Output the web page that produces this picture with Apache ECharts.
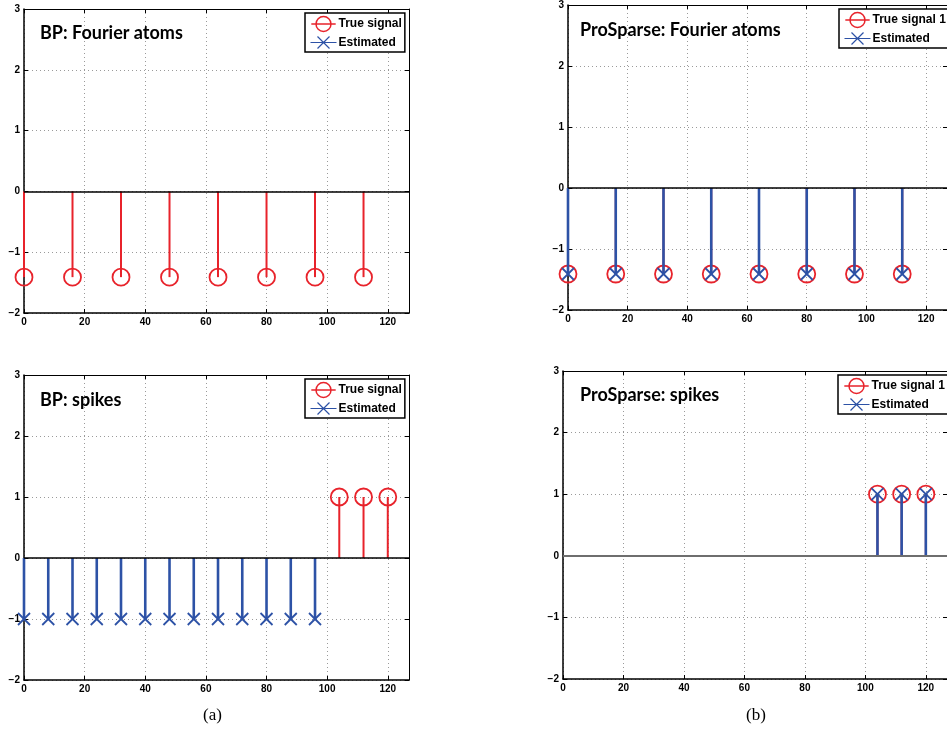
<!DOCTYPE html>
<html>
<head>
<meta charset="utf-8">
<script src="https://cdn.jsdelivr.net/npm/echarts@6/dist/echarts.min.js"></script>
<style>
  html, body { margin: 0; padding: 0; background: #fff; }
  #chart { width: 947px; height: 733px; }
</style>
</head>
<body>
<div id="chart"></div>
<script>
// data
const fourierIdx = [0, 16, 32, 48, 64, 80, 96, 112];
const fourierTrue = [-1.41, -1.41, -1.41, -1.41, -1.41, -1.41, -1.41, -1.41];
const bpFourierEstIdx = [];
const bpFourierEst = [];
const psFourierEst = [-1.41, -1.41, -1.41, -1.41, -1.41, -1.41, -1.41, -1.41];

const spikeIdx = [104, 112, 120];
const spikeTrue = [1, 1, 1];
const bpSpikeEstIdx = [0, 8, 16, 24, 32, 40, 48, 56, 64, 72, 80, 88, 96];
const bpSpikeEst = [-1, -1, -1, -1, -1, -1, -1, -1, -1, -1, -1, -1, -1];
const psSpikeEst = [1, 1, 1];

const RED = '#e8232b';
const BLUE = '#2d52a6';

const panels = [
  { title: 'BP: Fourier atoms', trueName: 'True signal',
    trueX: fourierIdx, trueY: fourierTrue, estX: bpFourierEstIdx, estY: bpFourierEst,
    grid: { left: 24, top: 9, width: 385, height: 304 },
    titlePos: { left: 40, top: 24 }, legendPos: { left: 305, top: 13 }, base: '#000', baseW: 1.5 },
  { title: 'ProSparse: Fourier atoms', trueName: 'True signal 1',
    trueX: fourierIdx, trueY: fourierTrue, estX: fourierIdx, estY: psFourierEst,
    grid: { left: 568, top: 5, width: 386, height: 305 },
    titlePos: { left: 580, top: 21 }, legendPos: { left: 839, top: 9 }, base: '#000', baseW: 1.5 },
  { title: 'BP: spikes', trueName: 'True signal',
    trueX: spikeIdx, trueY: spikeTrue, estX: bpSpikeEstIdx, estY: bpSpikeEst,
    grid: { left: 24, top: 375, width: 385, height: 305 },
    titlePos: { left: 40, top: 391 }, legendPos: { left: 305, top: 379 }, base: '#000', baseW: 1.5 },
  { title: 'ProSparse: spikes', trueName: 'True signal 1',
    trueX: spikeIdx, trueY: spikeTrue, estX: spikeIdx, estY: psSpikeEst,
    grid: { left: 563, top: 371, width: 391, height: 308 },
    titlePos: { left: 580, top: 386 }, legendPos: { left: 838, top: 375 }, base: '#6e6e6e', baseW: 2.2 }
];

const tickFont = { fontFamily: 'Liberation Sans', fontWeight: 'bold', fontSize: 10, color: '#000' };
const gridLine = { show: true, lineStyle: { color: '#9a9a9a', type: [1, 3], width: 1 } };

function fmtY(v) {
  return v < 0 ? '\u2212' + (-v) : String(v);
}

function stem(kind, color, width) {
  return function (params, api) {
    const x = api.value(0), y = api.value(1);
    const p = api.coord([x, y]);
    const b = api.coord([x, 0]);
    const kids = [{
      type: 'line',
      shape: { x1: b[0], y1: b[1], x2: p[0], y2: p[1] },
      style: { stroke: color, lineWidth: width }
    }];
    if (kind === 'circle') {
      kids.push({
        type: 'circle',
        shape: { cx: p[0], cy: p[1], r: 8.5 },
        style: { fill: 'none', stroke: color, lineWidth: 1.8 }
      });
    } else {
      const s = 6;
      kids.push({
        type: 'polyline',
        shape: { points: [[p[0] - s, p[1] - s], [p[0] + s, p[1] + s]] },
        style: { stroke: color, lineWidth: 1.8, fill: null }
      });
      kids.push({
        type: 'polyline',
        shape: { points: [[p[0] + s, p[1] - s], [p[0] - s, p[1] + s]] },
        style: { stroke: color, lineWidth: 1.8, fill: null }
      });
    }
    return { type: 'group', children: kids };
  };
}

const grids = [], xAxes = [], yAxes = [], series = [], titles = [], legends = [];

panels.forEach(function (pn, g) {
  grids.push(Object.assign({ containLabel: false }, pn.grid));

  xAxes.push({
    type: 'value', gridIndex: g, min: 0, max: 127, interval: 20, position: 'bottom',
    axisLine: { onZero: false, lineStyle: { color: '#000', width: 1.5 } },
    axisTick: { inside: true, length: 4, lineStyle: { color: '#000' } },
    axisLabel: Object.assign({ margin: 4, showMaxLabel: false }, tickFont),
    splitLine: gridLine
  });
  xAxes.push({
    type: 'value', gridIndex: g, min: 0, max: 127, interval: 20, position: 'top',
    axisLine: { onZero: false, lineStyle: { color: '#000', width: 1 } },
    axisTick: { inside: true, length: 4, lineStyle: { color: '#000' } },
    axisLabel: { show: false }, splitLine: { show: false }
  });
  yAxes.push({
    type: 'value', gridIndex: g, min: -2, max: 3, interval: 1, position: 'left',
    axisLine: { onZero: false, lineStyle: { color: '#000', width: 1.5 } },
    axisTick: { inside: true, length: 4, lineStyle: { color: '#000' } },
    axisLabel: Object.assign({ margin: 4, formatter: fmtY }, tickFont),
    splitLine: gridLine
  });
  yAxes.push({
    type: 'value', gridIndex: g, min: -2, max: 3, interval: 1, position: 'right',
    axisLine: { onZero: false, lineStyle: { color: '#000', width: 1 } },
    axisTick: { inside: true, length: 4, lineStyle: { color: '#000' } },
    axisLabel: { show: false }, splitLine: { show: false }
  });

  series.push({
    name: pn.trueName, type: 'custom', xAxisIndex: 2 * g, yAxisIndex: 2 * g,
    renderItem: stem('circle', RED, 2), itemStyle: { color: RED },
    data: pn.trueX.map(function (x, i) { return [x, pn.trueY[i]]; }),
    markLine: {
      silent: true, symbol: 'none', label: { show: false },
      lineStyle: { color: pn.base, width: pn.baseW, type: 'solid' },
      data: [{ yAxis: 0 }]
    },
    z: 3
  });
  series.push({
    name: 'Estimated', type: 'custom', xAxisIndex: 2 * g, yAxisIndex: 2 * g,
    renderItem: stem('cross', BLUE, 2.6), itemStyle: { color: BLUE },
    data: pn.estX.map(function (x, i) { return [x, pn.estY[i]]; }),
    z: 4
  });

  titles.push({
    text: pn.title, left: pn.titlePos.left, top: pn.titlePos.top, padding: 0,
    textStyle: { fontFamily: 'Lato', fontWeight: 'bold', fontSize: 18, color: '#000' }
  });

  legends.push({
    orient: 'vertical', left: pn.legendPos.left, top: pn.legendPos.top,
    padding: [1, 3, 1, 3], itemGap: 0, itemWidth: 26, itemHeight: 15,
    backgroundColor: '#fff', borderColor: '#000', borderWidth: 1.5, borderRadius: 0,
    selectedMode: false,
    textStyle: { fontFamily: 'Liberation Sans', fontWeight: 'bold', fontSize: 12, color: '#000', padding: [0, 0, 0, -3] },
    data: [
      { name: pn.trueName, icon: 'path://M0,8L26,8M21,8A8,8,0,1,1,5,8A8,8,0,1,1,21,8Z',
        itemStyle: { color: 'none', borderColor: RED, borderWidth: 1.5 } },
      { name: 'Estimated', icon: 'path://M0,8L26,8M7,2L19,14M19,2L7,14',
        itemStyle: { color: 'none', borderColor: BLUE, borderWidth: 1.2 } }
    ]
  });
});

const chart = echarts.init(document.getElementById('chart'), null, { renderer: 'canvas' });
chart.setOption({
  backgroundColor: '#fff',
  animation: false,
  title: titles,
  legend: legends,
  grid: grids,
  xAxis: xAxes,
  yAxis: yAxes,
  series: series,
  graphic: [
    { type: 'text', left: 203, top: 707, style: { text: '(a)', font: '17px "Liberation Serif"', fill: '#000' } },
    { type: 'text', left: 746, top: 707, style: { text: '(b)', font: '17px "Liberation Serif"', fill: '#000' } }
  ]
});
</script>
</body>
</html>
